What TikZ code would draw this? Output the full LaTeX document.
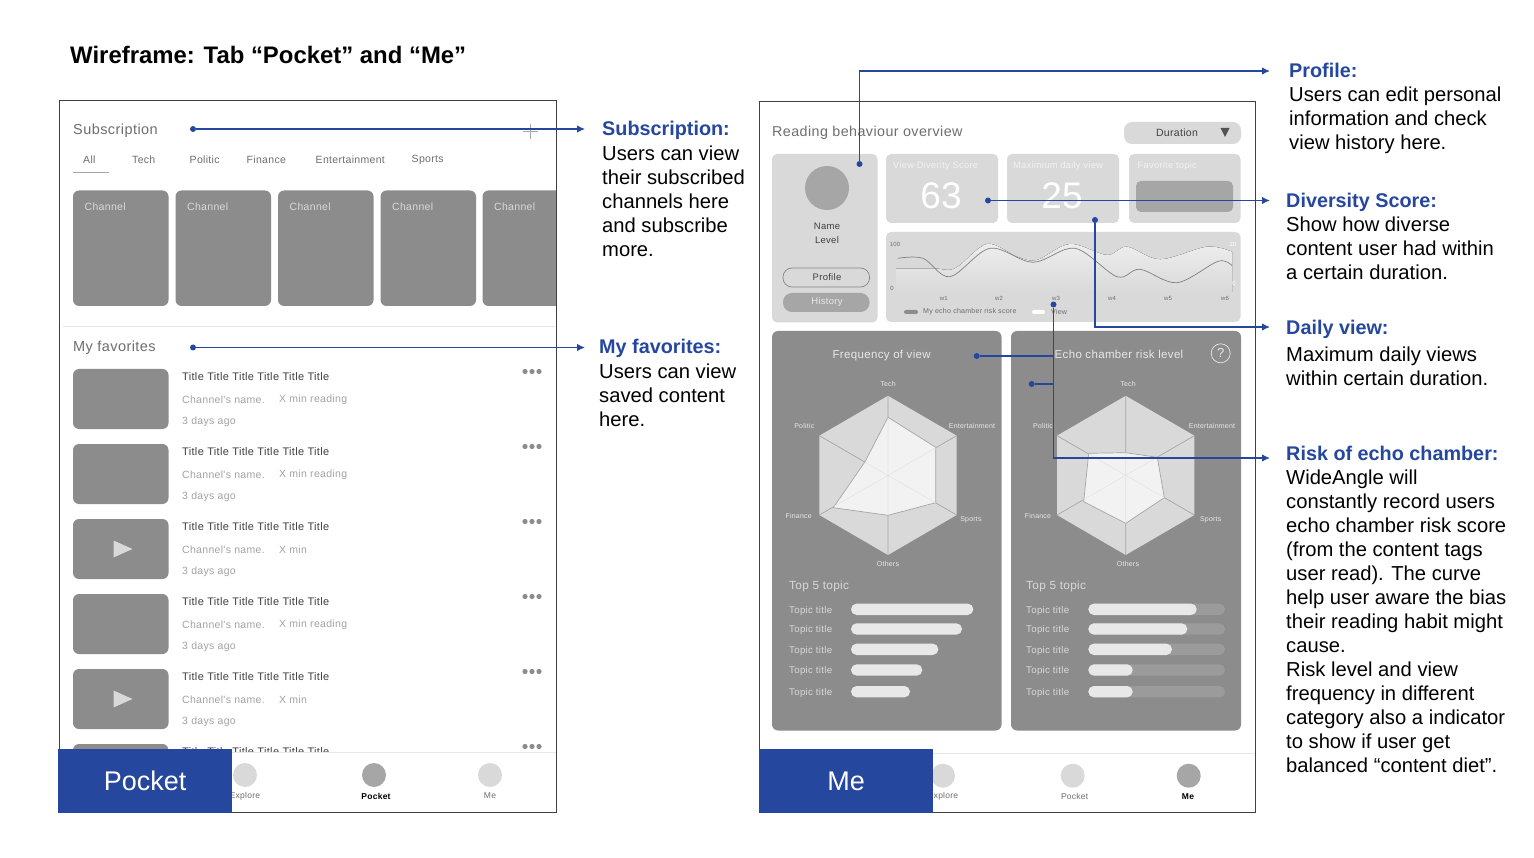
\documentclass[tikz,border=0pt]{standalone}
\usepackage{fontspec}
\setmainfont{Liberation Sans}
\newfontfamily\uif[LetterSpace=3]{Liberation Sans}
\usetikzlibrary{arrows.meta}
\definecolor{bluex}{HTML}{26479E}
\definecolor{cardg}{HTML}{8C8C8C}
\definecolor{lightg}{HTML}{D9D9D9}
\definecolor{midg}{HTML}{A6A6A6}
\definecolor{headg}{HTML}{6E6E6E}
\definecolor{softg}{HTML}{A3A3A3}
\definecolor{darkt}{HTML}{404040}
\definecolor{whit}{HTML}{E8E8E8}
\definecolor{polyg}{HTML}{F2F2F2}
\newcommand{\ff}[1]{\fontsize{#1}{#1}\selectfont}
\tikzset{
  x=1pt,y=-1pt,
  hd/.style={inner sep=0pt,anchor=west,yshift=-1pt,text=headg,font=\uif\ff{14.5}},
  tab/.style={inner sep=0pt,yshift=-1pt,text=headg,font=\uif\ff{10.5}},
  cardtxt/.style={inner sep=0pt,anchor=west,yshift=-1pt,text=lightg,font=\uif\ff{10.5}},
  ttl/.style={inner sep=0pt,anchor=west,yshift=-1pt,text=darkt,font=\uif\ff{11}},
  sub/.style={inner sep=0pt,anchor=west,yshift=-1pt,text=softg,font=\uif\ff{10.5}},
  tinyl/.style={inner sep=0pt,yshift=-.7pt,text=whit,font=\uif\ff{7}},
  toplab/.style={inner sep=0pt,anchor=west,yshift=-1.2pt,text=lightg,font=\uif\ff{9.7}},
  barbg/.style={fill=#1,rounded corners=5.6pt},
  navlab/.style={inner sep=0pt,text=headg,font=\uif\ff{8.5}},
  navact/.style={inner sep=0pt,text=black,font=\bfseries\uif\ff{8.5}},
  tabbox/.style={fill=bluex,text=white,minimum width=174pt,minimum height=64pt,inner sep=0pt,font=\ff{27}},
  dotx/.style={circle,fill=bluex,inner sep=0pt,minimum size=6pt},
  con/.style={draw=bluex,line width=1.3pt},
  conarr/.style={con,-{Latex[length=8pt,width=7.5pt]}},
  hnote/.style={anchor=west,inner ysep=0pt,inner xsep=0pt,text=bluex,text height=18pt,text depth=4pt,font=\bfseries\ff{19.8}},
  bnote/.style={anchor=north west,inner sep=0pt,align=left,font=\fontsize{20.2}{24}\selectfont},
  frameb/.style={draw=darkt,line width=1pt},
  chl/.style={inner sep=0pt,text=headg,font=\uif\ff{6}},
}
\begin{document}
\begin{tikzpicture}
\useasboundingbox (0,0) rectangle (1534,858);
\fill[white] (0,0) rectangle (1534,858);
\node[inner sep=0pt,anchor=west,font=\bfseries\ff{23.9}] (title) at (70,55.2) {Wireframe: Tab “Pocket” and “Me”};

% ---------- LEFT PHONE ----------
\fill[white] (59.5,100.5) rectangle (556.5,812);
\begin{scope}
\clip (59.5,100.5) rectangle (556.5,812);
\node[hd] (subHead) at (73,130) {Subscription};
\draw[headg!60,line width=.8pt] (523,131)--(538,131) (530.5,124)--(530.5,139);
\node[tab,anchor=west] (t1) at (83,159) {All};
\node[tab,anchor=west] (t2) at (132,159) {Tech};
\node[tab,anchor=west] (t3) at (189.5,159) {Politic};
\node[tab,anchor=west] (t4) at (246.5,159) {Finance};
\node[tab,anchor=west] (t5) at (315.5,159) {Entertainment};
\node[tab,anchor=west] (t6) at (411.5,159) {Sports};
\draw[midg,line width=1pt] (72.5,173)--(108.5,173);
\foreach \i/\xa/\xb in {1/73/168.5,2/175.5/271,3/278/373.5,4/380.5/476,5/482.5/580}{
  \fill[cardg,rounded corners=6pt] (\xa,190.5) rectangle (\xb,306);
  \node[cardtxt] (ch\i) at (\xa+11.5,206) {Channel};
}
\draw[lightg!70,line width=1pt] (63,326.5)--(555,326.5);
\node[hd] (favHead) at (73,347) {My favorites};
\foreach \i/\y/\txt/\play in {1/369/X min reading/0,2/444/X min reading/0,3/519/X min/1,4/594/X min reading/0,5/669/X min/1,6/744/{}/0}{
  \fill[cardg,rounded corners=6pt] (73,\y) rectangle (168.5,\y+60);
  \node[ttl] (it\i) at (182,\y+7) {Title Title Title Title Title Title};
  \foreach \dx in {525,532,539}{\fill[cardg] (\dx,\y+2.5) circle[radius=2.6pt];}
  \ifnum\i<6
    \node[sub] (ic\i) at (182,\y+30) {Channel's name.};
    \node[sub] (ix\i) at (279,\y+30) {\txt};
    \node[sub] (id\i) at (182,\y+52) {3 days ago};
  \fi
  \ifnum\play=1
    \fill[lightg] (113.5,\y+21.5)--(132.5,\y+30)--(113.5,\y+38.5)--cycle;
  \fi
}
\fill[white] (59.5,752) rectangle (556.5,812);
\draw[lightg!60,line width=.8pt] (59.5,752)--(556.5,752);
\fill[lightg] (245,775) circle[radius=12pt];
\fill[midg] (374,775) circle[radius=12pt];
\fill[lightg] (490,775) circle[radius=12pt];
\node[navlab] (n1) at (245,796) {Explore};
\node[navact] (n2) at (376,796) {Pocket};
\node[navlab] (n3) at (490,796) {Me};
\end{scope}
\draw[frameb] (59.5,100.5) rectangle (556.5,812);
\node[tabbox,anchor=north west] (tabPocket) at (58,749) {\raisebox{-1pt}{Pocket}};

% ---------- RIGHT PHONE ----------
\fill[white] (759,102) rectangle (1255,812);
\node[hd,font=\uif\ff{14.3}] (readHead) at (772,132) {Reading behaviour overview};
\fill[lightg,rounded corners=8pt] (1124,122) rectangle (1241,144);
\node[inner sep=0pt,text=darkt,font=\uif\ff{10.5}] (dur) at (1177,132.5) {Duration};
\fill[darkt!90] (1220.5,128)--(1229.5,128)--(1225,137)--cycle;
% profile
\fill[lightg,rounded corners=5pt] (772,154) rectangle (877.5,322.5);
\fill[midg] (827,188) circle[radius=22pt];
\node[inner sep=0pt,font=\uif\ff{9.5},text=darkt] (nm) at (827,226) {Name};
\node[inner sep=0pt,font=\uif\ff{9.5},text=darkt] (lv) at (827,240) {Level};
\draw[fill=lightg,draw=midg!80!black,line width=.7pt,rounded corners=9pt] (783,268) rectangle (869.5,287);
\node[inner sep=0pt,font=\uif\ff{9.5},text=darkt] (bp) at (827,277) {Profile};
\fill[midg,rounded corners=9pt] (783,293) rectangle (869.5,312);
\node[inner sep=0pt,font=\uif\ff{9.5},text=whit] (bh) at (827,302.5) {History};
% scores
\foreach \a/\b in {886/998,1007/1119,1129/1240.5}{\fill[lightg,rounded corners=5pt] (\a,154) rectangle (\b,223);}
\node[inner sep=0pt,anchor=west,text=polyg,font=\uif\ff{9.3}] (s1) at (893,166) {View Diverity Score};
\node[inner sep=0pt,anchor=west,text=polyg,font=\uif\ff{9.3}] (s2) at (1013,166) {Maximium daily view};
\node[inner sep=0pt,anchor=west,text=polyg,font=\uif\ff{9.3}] (s3) at (1137.5,166) {Favorite topic};
\node[inner sep=0pt,text=white,font=\ff{37}] (n63) at (941,196) {63};
\node[inner sep=0pt,text=white,font=\ff{37}] (n25) at (1062,196) {25};
\fill[midg,rounded corners=5pt] (1136,181) rectangle (1233,212);
% chart
\fill[lightg,rounded corners=5pt] (886,232) rectangle (1240.5,322);
\fill[top color=polyg!60!whit,bottom color=lightg] (896,292) -- plot[smooth,tension=.55] coordinates {(896,268.3)(933,268.3)(955,268.3)(987,244)(1017,256.7)(1037,260)(1070,244)(1107,255)(1127,246.7)(1160,259.3)(1207,246.7)(1232,251.7)} -- (1232,292) -- cycle;
\draw[black!50,line width=.7pt] plot[smooth,tension=.55] coordinates {(897.7,258.3)(923,258.3)(950,276.7)(990,248.3)(1033,262.3)(1075,248.3)(1117,276.7)(1140,269.3)(1177,282.7)(1218,261.3)(1232,265.7)};
\node[chl] (c100) at (895,244) {100};
\node[chl] (c0) at (892,288) {0};
\node[chl,text=white] (c20) at (1233,244) {20};
\node[chl,text=white] (c0b) at (1234,283) {0};
\foreach \i/\x in {1/943.7,2/999,3/1056,4/1112,5/1168,6/1225}{\node[chl] (w\i) at (\x,298) {w\i};}
\fill[cardg,rounded corners=2pt] (904,310)rectangle(918,314);
\node[chl,anchor=west,font=\uif\ff{7.1}] (lg1) at (923,312) {My echo chamber risk score};
\fill[white,rounded corners=2pt] (1032,310)rectangle(1045,314);
\node[chl,anchor=west,font=\uif\ff{7.1}] (lg2) at (1051,312) {View};
% panels
\foreach \a/\b in {772/1001.5,1011/1241}{\fill[cardg,rounded corners=6pt] (\a,331) rectangle (\b,730.5);}
\node[inner sep=0pt,text=whit,font=\uif\ff{11.5}] (pf) at (881.7,355.3) {Frequency of view};
\node[inner sep=0pt,text=whit,font=\uif\ff{11.5}] (pe) at (1119,354.5) {Echo chamber risk level};
\draw[whit,line width=.7pt] (1220.7,353.3) circle[radius=9.5pt];
\node[inner sep=0pt,text=whit,font=\ff{13}] (qm) at (1220.7,353.3) {?};
% radars
\foreach \cx/\pa in {888/1,1125.7/2}{
  \fill[lightg] (\cx,395.8)--(\cx+68.7,435.7)--(\cx+68.7,515)--(\cx,555)--(\cx-68.7,515)--(\cx-68.7,435.7)--cycle;
  \draw[midg,line width=.7pt] (\cx,395.8)--(\cx,555) (\cx+68.7,435.7)--(\cx-68.7,515) (\cx+68.7,515)--(\cx-68.7,435.7);
}
\fill[polyg,draw=midg,line width=.7pt] (888,417.3)--(935.7,447.3)--(935.7,502.7)--(888,515.3)--(833.3,507.7)--(865,461.7)--cycle;
\fill[polyg,draw=midg,line width=.7pt] (1125.7,452.7)--(1157.3,457.3)--(1164.3,497.7)--(1125.7,523.3)--(1083.7,501.7)--(1088.7,453.3)--cycle;
\begin{scope}
\clip (888,417.3)--(935.7,447.3)--(935.7,502.7)--(888,515.3)--(833.3,507.7)--(865,461.7)--cycle;
\draw[lightg!70,line width=.6pt] (888,395.8)--(888,555) (956.7,435.7)--(819.3,515) (956.7,515)--(819.3,435.7);
\end{scope}
\begin{scope}
\clip (1125.7,452.7)--(1157.3,457.3)--(1164.3,497.7)--(1125.7,523.3)--(1083.7,501.7)--(1088.7,453.3)--cycle;
\draw[lightg!70,line width=.6pt] (1125.7,395.8)--(1125.7,555) (1194.4,435.7)--(1057,515) (1194.4,515)--(1057,435.7);
\end{scope}
\foreach \pre/\tx/\ex/\sx/\ox/\fx/\px in {a/888/972/971/888/798.7/804.3,b/1128/1212/1210.7/1128/1038/1043}{
  \node[tinyl] (\pre tech) at (\tx,383.3) {Tech};
  \node[tinyl] (\pre ent) at (\ex,425.7) {Entertainment};
  \node[tinyl] (\pre spo) at (\sx,518.7) {Sports};
  \node[tinyl] (\pre oth) at (\ox,563.5) {Others};
  \node[tinyl] (\pre fin) at (\fx,515.7) {Finance};
  \node[tinyl] (\pre pol) at (\px,425.3) {Politic};
}
% top 5
\node[toplab,font=\uif\ff{11.8}] (top1) at (789,585) {Top 5 topic};
\node[toplab,font=\uif\ff{11.8}] (top2) at (1026,585) {Top 5 topic};
\foreach \i/\y/\ea/\eb in {1/609.3/973.3/1196.7,2/629/962/1187.3,3/649.3/938.3/1172,4/670/922.3/1132.7,5/691.7/910/1132.7}{
  \node[toplab] (la\i) at (789,\y) {Topic title};
  \node[toplab] (lb\i) at (1026,\y) {Topic title};
  \fill[barbg=whit] (851,\y-5.7) rectangle (\ea,\y+5.7);
  \fill[barbg=cardg!80!lightg] (1088.3,\y-5.7) rectangle (1225,\y+5.7);
  \fill[barbg=whit] (1088.3,\y-5.7) rectangle (\eb,\y+5.7);
}
% nav
\draw[lightg!60,line width=.8pt] (759,753.3)--(1255,753.3);
\fill[lightg] (943,775.7) circle[radius=12pt];
\fill[lightg] (1072.7,775.7) circle[radius=12pt];
\fill[midg] (1188.7,775.7) circle[radius=12pt];
\node[navlab] (m1) at (943,796) {Explore};
\node[navlab] (m2) at (1074.7,796) {Pocket};
\node[navact] (m3) at (1188,796.5) {Me};
\draw[frameb] (759,102) rectangle (1255,812);
\node[tabbox,anchor=north west] (tabMe) at (759,749) {\raisebox{-1pt}{Me}};

% ---------- NOTES ----------
\node[hnote] (hSub) at (585,129) {\hspace{17pt}Subscription:};
\node[bnote] (bSub) at (602,145.7) {Users can view\\their subscribed\\channels here\\and subscribe\\more.};
\node[hnote] (hFav) at (585,347) {\hspace{14pt}My favorites:};
\node[bnote] (bFav) at (599,363.7) {Users can view\\saved content\\here.};
\node[hnote] (hProf) at (1270,71) {\hspace{19pt}Profile:};
\node[bnote] (bProf) at (1289,86.7) {Users can edit personal\\information and check\\view history here.};
\node[hnote] (hDiv) at (1270,200.5) {\hspace{16pt}Diversity Score:};
\node[bnote] (bDiv) at (1286,216.7) {Show how diverse\\content user had within\\a certain duration.};
\node[hnote] (hDay) at (1270,328) {\hspace{16pt}Daily view:};
\node[bnote] (bDay) at (1286,346.7) {Maximum daily views\\within certain duration.};
\node[hnote] (hRisk) at (1270,453) {\hspace{16pt}Risk of echo chamber:};
\node[bnote] (bRisk) at (1286,469.9) {WideAngle will\\constantly record users\\echo chamber risk score\\(from the content tags\\user read). The curve\\help user aware the bias\\their reading habit might\\cause.\\Risk level and view\\frequency in different\\category also a indicator\\to show if user get\\balanced “content diet”.};

% ---------- CONNECTORS ----------
\node[dotx] (dSub) at (193,129) {};
\node[dotx] (dFav) at (193,347.5) {};
\node[dotx] (dProf) at (859.5,164) {};
\node[dotx] (dDiv) at (988,200.5) {};
\node[dotx] (dDay) at (1095,220) {};
\node[dotx] (dRisk) at (1053.5,304.5) {};
\node[dotx] (dFreq) at (976.7,356) {};
\node[dotx] (dLev) at (1031.7,384) {};
\coordinate (jA) at (1053.5,356);
\coordinate (jB) at (1053.5,384);
\draw[conarr] (dSub) -- (hSub.west);
\draw[conarr] (dFav) -- (dFav -| hFav.west);
\draw[conarr] (dProf) |- (hProf.west);
\draw[conarr] (dDiv) -- (hDiv.west);
\draw[conarr] (dDay) |- ([yshift=1pt]hDay.west);
\draw[conarr] (dRisk) |- ([yshift=-5pt]hRisk.west);
\draw[con] (dFreq) -- (jA);
\draw[con] (dLev) -- (jB);
\end{tikzpicture}
\end{document}
